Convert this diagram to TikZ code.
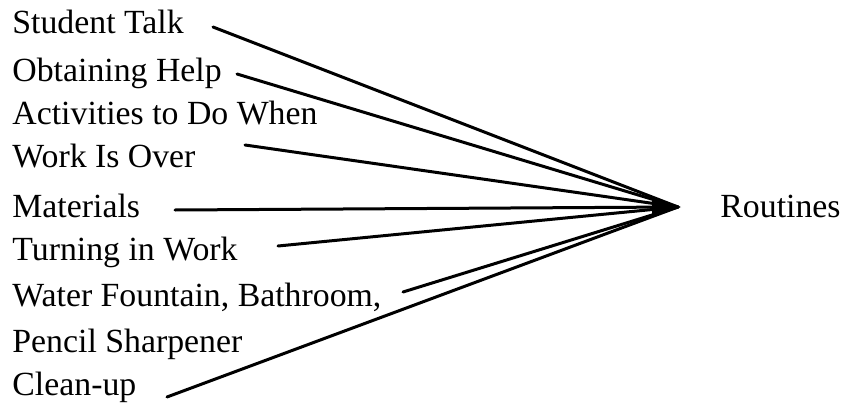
\documentclass[tikz,border=0pt]{standalone}
\usepackage{fontspec}
\setmainfont{Liberation Serif}
\begin{document}
\begin{tikzpicture}[x=0.5pt,y=-0.5pt,
  lbl/.style={anchor=base west,inner sep=0pt,font=\fontsize{16.9}{20}\selectfont},
  spoke/.style={line width=1.5pt,line cap=round}]
\useasboundingbox (0,0) rectangle (841,407);
\node[lbl] (t1) at (12,33) {Student Talk};
\node[lbl] (t2) at (12,81) {Obtaining Help};
\node[lbl] (t3) at (12,124) {Activities to Do When};
\node[lbl] (t4) at (12,167) {Work Is Over};
\node[lbl] (t5) at (12,217) {Materials};
\node[lbl] (t6) at (12,260) {Turning in Work};
\node[lbl] (t7) at (12,306) {Water Fountain, Bathroom,};
\node[lbl] (t8) at (12,352) {Pencil Sharpener};
\node[lbl] (t9) at (12,395) {Clean-up};
\node[lbl] (r) at (720,217) {Routines};
\coordinate (hub) at (678,207);
\coordinate (s1) at (213,27);
\coordinate (s2) at (237,74);
\coordinate (s4) at (245,145);
\coordinate (s5) at (175,210);
\coordinate (s6) at (278,246);
\coordinate (s7) at (403,292);
\coordinate (s9) at (167,397);
\foreach \s in {s1,s2,s4,s5,s6,s7,s9} \draw[spoke] (\s) -- (hub);
\fill (652,199) -- (681,207) -- (652,215) -- cycle;
\end{tikzpicture}
\end{document}
